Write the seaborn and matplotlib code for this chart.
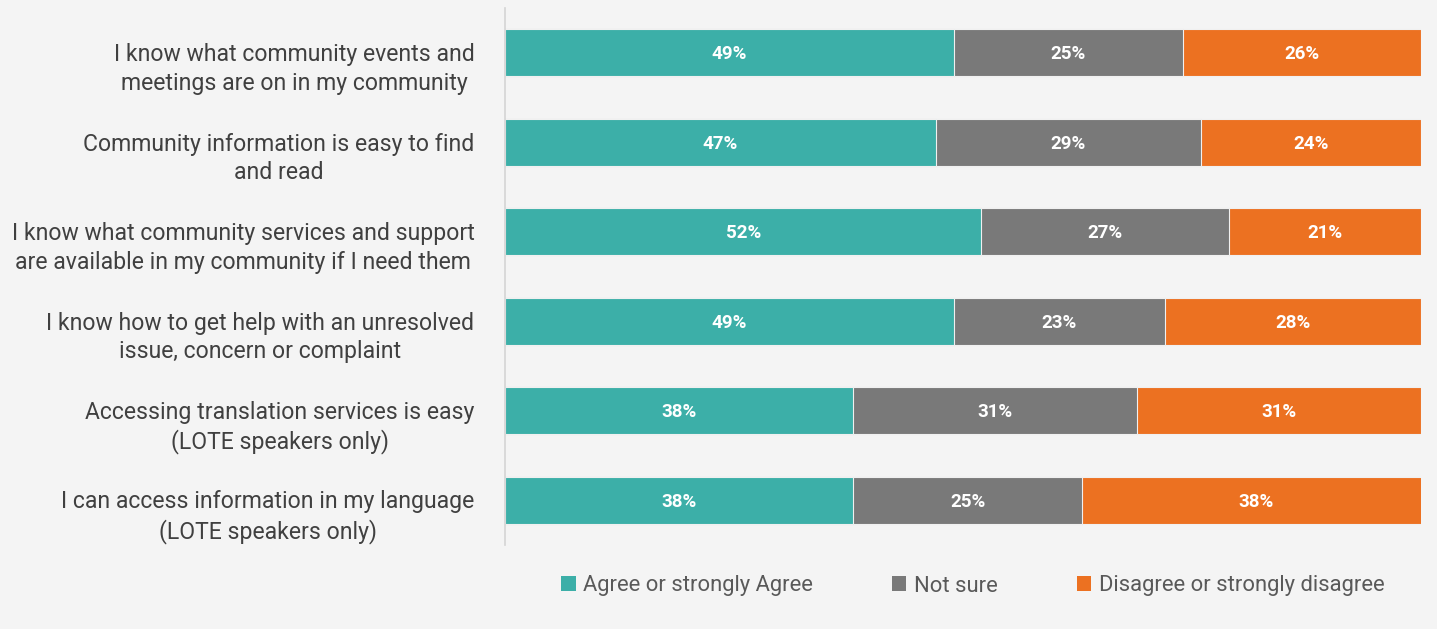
import matplotlib
matplotlib.use("Agg")
import matplotlib.pyplot as plt
import matplotlib.transforms as mtransforms
import seaborn as sns
import pandas as pd
from matplotlib.patches import Patch

# Survey statements and response shares (%)
statements = [
    "I know what community events and\nmeetings are on in my community",
    "Community information is easy to find\nand read",
    "I know what community services and support\nare available in my community if I need them",
    "I know how to get help with an unresolved\nissue, concern or complaint",
    "Accessing translation services is easy\n(LOTE speakers only)",
    "I can access information in my language\n(LOTE speakers only)",
]
agree = [49, 47, 52, 49, 38, 38]
not_sure = [25, 29, 27, 23, 31, 25]
disagree = [26, 24, 21, 28, 31, 38]

series_names = ["Agree or strongly Agree", "Not sure", "Disagree or strongly disagree"]
colors = ["#3cafa8", "#797979", "#ec7121"]

BG = "#f4f4f4"
sns.set_theme(style="white")
plt.rcParams["font.family"] = ["Roboto", "DejaVu Sans"]

df = pd.DataFrame({
    "statement": statements,
    "agree": agree,
    "not_sure": not_sure,
    "disagree": disagree,
})
df["cum1"] = df["agree"]
df["cum2"] = df["agree"] + df["not_sure"]
df["cum3"] = df["cum2"] + df["disagree"]

fig = plt.figure(figsize=(14.37, 6.29), dpi=100, facecolor=BG)
ax = fig.add_axes([505 / 1437, 1 - 545 / 629, 916 / 1437, 537 / 629])
ax.set_facecolor(BG)

# Stacked bars: draw cumulative totals back to front
for col, color in zip(["cum3", "cum2", "cum1"], colors[::-1]):
    sns.barplot(data=df, x=col, y="statement", orient="h", color=color,
                width=0.525, edgecolor="#f0f0f0", linewidth=0.8,
                saturation=1, ax=ax)

# Percentage labels centred in each segment
for i, row in df.iterrows():
    starts = [0, row["cum1"], row["cum2"]]
    vals = [row["agree"], row["not_sure"], row["disagree"]]
    for s, v in zip(starts, vals):
        ax.text(s + v / 2, i + 0.015, f"{v}%", ha="center", va="center",
                color="white", fontsize=13.5, fontweight="bold")

ax.set_xlim(0, 100)
ax.set_ylim(5.5, -0.5)
ax.set_xlabel("")
ax.set_ylabel("")
ax.set_xticks([])
ax.tick_params(axis="y", length=0, pad=22, labelsize=16.6, labelcolor="#404040")

# Category labels: centred lines, sitting slightly below the bar centre
shift = mtransforms.ScaledTranslation(0, -11 / 100, fig.dpi_scale_trans)
for lab in ax.get_yticklabels():
    lab.set_multialignment("center")
    lab.set_linespacing(1.3)
    lab.set_transform(lab.get_transform() + shift)

for side in ["top", "right", "bottom"]:
    ax.spines[side].set_visible(False)
ax.spines["left"].set_color("#d4d4d4")
ax.spines["left"].set_linewidth(1.2)

handles = [Patch(facecolor=c, edgecolor="none", label=n) for c, n in zip(colors, series_names)]
fig.legend(handles=handles, loc="center", bbox_to_anchor=(0.677, 1 - 586 / 629),
           ncol=3, frameon=False, fontsize=15.8, labelcolor="#595959",
           handlelength=0.65, handleheight=0.65, handletextpad=0.35,
           columnspacing=3.6)

fig.savefig("out.png", dpi=100, facecolor=BG)
